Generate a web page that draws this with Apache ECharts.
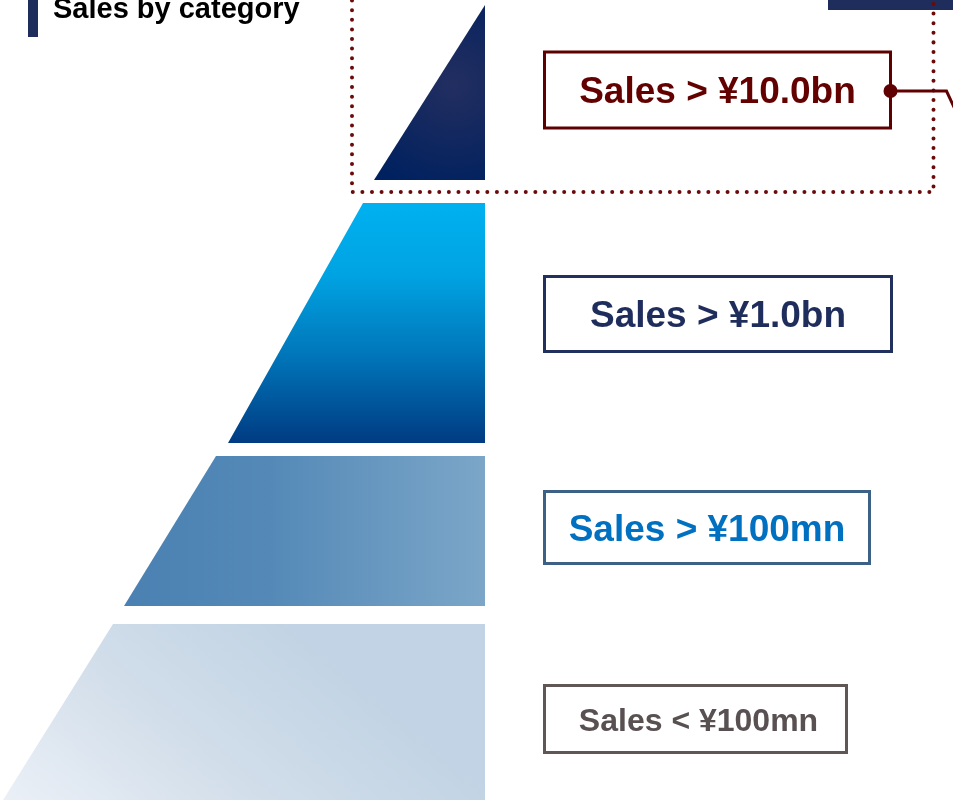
<!DOCTYPE html>
<html>
<head>
<meta charset="utf-8">
<style>
  html, body { margin: 0; padding: 0; background: #ffffff; }
  #chart { width: 953px; height: 800px; }
</style>
<script src="https://cdn.jsdelivr.net/npm/echarts@6/dist/echarts.min.js"></script>
</head>
<body>
<div id="chart"></div>
<script>
// ---- data ----
const titleText = 'Sales by category';
const categories = ['Sales > ¥10.0bn', 'Sales > ¥1.0bn', 'Sales > ¥100mn', 'Sales < ¥100mn'];
// tier extent on the vertical "level" scale (0 = apex side)
const tierTop = [5, 203, 456, 624];
const tierBottom = [180, 443, 606, 800];
// tier half-width (measured from the pyramid's vertical edge) at its top and bottom
const widthTop = [0, 122, 269, 372];
const widthBottom = [111, 257, 361, 482];
const highlightIndex = 0;

// ---- styles ----
const FONT = '"Liberation Sans", Arial, Helvetica, sans-serif';
const NAVY = '#1f2d5c';
const RED = '#600000';
const tierFills = [
  () => new echarts.graphic.RadialGradient(0.72, 0.45, 1.0, [
    { offset: 0, color: '#232e60' }, { offset: 1, color: '#00215f' }]),
  () => new echarts.graphic.LinearGradient(0, 0, 0, 1, [
    { offset: 0, color: '#00b1f0' }, { offset: 0.3, color: '#00a3e2' },
    { offset: 0.62, color: '#0078bc' }, { offset: 1, color: '#003b82' }]),
  () => new echarts.graphic.LinearGradient(0, 0, 1, 0, [
    { offset: 0, color: '#4a81b2' }, { offset: 0.4, color: '#5489b7' },
    { offset: 1, color: '#7ba6c8' }]),
  () => new echarts.graphic.LinearGradient(0, 1, 0.43, -0.41, [
    { offset: 0, color: '#ebf0f7' }, { offset: 0.5, color: '#d2deea' },
    { offset: 1, color: '#c1d3e4' }])
];
const labelStyles = [
  { w: 346, h: 76, dy: -2.5, tx: 0, ty: 3, border: '#5c0000', color: '#630000', fs: 37 },
  { w: 347, h: 75, dy: -9, tx: 0, ty: 3, border: '#22305e', color: '#1f2d5c', fs: 37 },
  { w: 325, h: 72, dy: -3.5, tx: 0, ty: 3, border: '#3c6185', color: '#0070c0', fs: 37 },
  { w: 302, h: 67, dy: 7, tx: 3, ty: 3, border: '#5f5656', color: '#595052', fs: 32 }
];
const labelGap = 59.5;

const chart = echarts.init(document.getElementById('chart'), null, { renderer: 'canvas' });

const seriesData = categories.map((c, i) => ({
  name: c,
  value: [widthTop[i], widthBottom[i], tierTop[i], tierBottom[i]]
}));

function renderItem(params, api) {
  const i = params.dataIndex;
  const wt = api.value(0), wb = api.value(1), t = api.value(2), b = api.value(3);
  const pTL = api.coord([wt, t]);
  const pTR = api.coord([0, t]);
  const pBR = api.coord([0, b]);
  const pBL = api.coord([wb, b]);
  const children = [{
    type: 'polygon',
    shape: { points: [pTL, pTR, pBR, pBL] },
    style: { fill: tierFills[i]() }
  }];
  const ls = labelStyles[i];
  const midY = (pTR[1] + pBR[1]) / 2 + ls.dy;
  const bx = pTR[0] + labelGap;
  const by = midY - ls.h / 2;
  children.push({
    type: 'rect',
    shape: { x: bx, y: by, width: ls.w, height: ls.h },
    style: { fill: '#ffffff', stroke: ls.border, lineWidth: 3 }
  });
  children.push({
    type: 'text',
    style: {
      text: categories[i], x: bx + ls.w / 2 + ls.tx, y: midY + ls.ty,
      fill: ls.color, font: 'bold ' + ls.fs + 'px ' + FONT,
      align: 'center', verticalAlign: 'middle'
    }
  });
  if (i === highlightIndex) {
    const right = bx + ls.w;
    // dotted highlight frame around the tier and its label
    children.push({
      type: 'rect',
      shape: { x: pBL[0] - 22, y: -20, width: right + 43 - (pBL[0] - 22), height: pBR[1] + 12 + 20 },
      style: { fill: 'none', stroke: '#6a0a0a', lineWidth: 4, lineDash: [0.01, 9.6], lineCap: 'round' },
      z2: 5
    });
    // connector
    children.push({
      type: 'polyline',
      shape: { points: [[right, midY + 1], [right + 56, midY + 1], [right + 70, midY + 31]] },
      style: { fill: 'none', stroke: RED, lineWidth: 3 },
      z2: 6
    });
    children.push({
      type: 'circle',
      shape: { cx: right, cy: midY + 1, r: 7 },
      style: { fill: RED },
      z2: 7
    });
  }
  return { type: 'group', children: children };
}

chart.setOption({
  animation: false,
  backgroundColor: '#ffffff',
  title: {
    text: titleText,
    left: 53, top: -4.5, padding: 0,
    textStyle: { fontFamily: FONT, fontSize: 29, fontWeight: 'bold', color: '#000000', lineHeight: 29 }
  },
  grid: { left: 0, right: 468, top: 0, bottom: 0 },
  xAxis: { type: 'value', min: 0, max: 485, inverse: true, show: false },
  yAxis: { type: 'value', min: 0, max: 800, inverse: true, show: false },
  graphic: [
    { type: 'rect', left: 28, top: 0, shape: { width: 10, height: 37 }, style: { fill: NAVY } },
    { type: 'rect', left: 828, top: 0, shape: { width: 125, height: 10 }, style: { fill: NAVY } }
  ],
  series: [{
    type: 'custom',
    coordinateSystem: 'cartesian2d',
    renderItem: renderItem,
    encode: { x: [0, 1], y: [2, 3] },
    data: seriesData,
    clip: false
  }]
});
</script>
</body>
</html>
